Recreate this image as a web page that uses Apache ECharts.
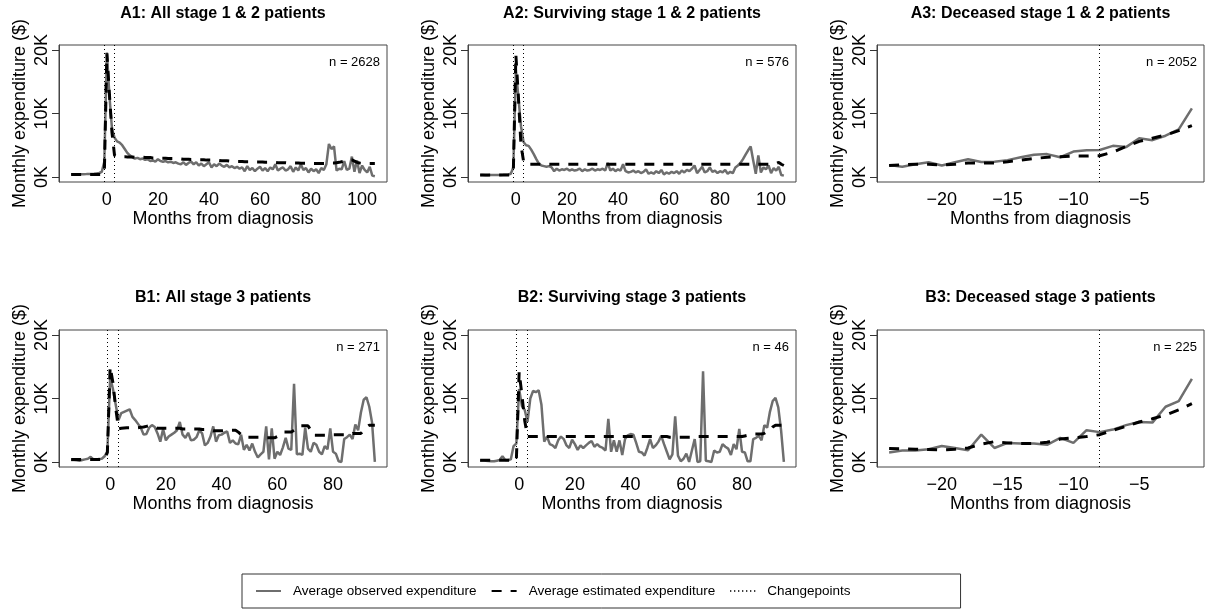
<!DOCTYPE html>
<html>
<head>
<meta charset="utf-8">
<title>Monthly expenditure</title>
<script src="https://cdn.jsdelivr.net/npm/echarts@6/dist/echarts.min.js"></script>
<style>
  html, body { margin: 0; padding: 0; background: #fff; }
  #chart { width: 1210px; height: 609px; }
</style>
</head>
<body>
<div id="chart"></div>
<script>
// panel texts
const panelTitles = [
  'A1: All stage 1 & 2 patients', 'A2: Surviving stage 1 & 2 patients', 'A3: Deceased stage 1 & 2 patients',
  'B1: All stage 3 patients', 'B2: Surviving stage 3 patients', 'B3: Deceased stage 3 patients'
]
const panelN = ['n = 2628', 'n = 576', 'n = 2052', 'n = 271', 'n = 46', 'n = 225']
// first month of each panel's series
const startMonths = [-14, -14, -24, -14, -14, -24]
const changepoints = [[-1, 3], [-1, 3], [-8], [-1, 3], [-1, 3], [-8]]
const xTickLabels = [
  [0, 20, 40, 60, 80, 100], [0, 20, 40, 60, 80, 100], [-20, -15, -10, -5],
  [0, 20, 40, 60, 80], [0, 20, 40, 60, 80], [-20, -15, -10, -5]
]
const yTickValues = [0, 10000, 20000]

// average observed expenditure, months -14..105
const observedA1 = [
  420, 430, 410, 420, 430, 440, 450, 470, 480, 500, 560, 620, 800, 2400,
  19600, 12800, 7600, 6200, 5600, 5400, 5000, 4400, 3800, 3400,
  3100, 2900, 3000, 2800, 2900, 2700, 2800, 2500, 2600, 2400,
  2800, 2500, 2400, 2500, 2300, 2400, 2200, 2300, 2100, 2000,
  2300, 1900, 2200, 2400, 2000, 2300, 1800, 2100, 1700, 2000,
  2300, 1500, 2000, 1700, 2100, 1800, 1600, 1900, 1500, 1700,
  1400, 1600, 1300, 1500, 900, 1700, 1100, 1400, 900, 1300,
  1600, 1000, 1400, 900, 1500, 1200, 2000, 1000, 1300, 1500,
  1000, 1200, 1700, 800, 1500, 1000, 2000, 1100, 1400, 700,
  1300, 900, 1200, 600, 1400, 1100, 2000, 5200, 4400, 4800,
  1000, 1300, 1200, 2500, 1100, 1300, 3200, 800, 2600, 600,
  1800, 1100, 700, 1600, 200, 100
]
// average estimated expenditure, months -14..105
const estimatedA1 = [
  400, 400, 400, 400, 400, 400, 400, 400, 400, 400, 400, 400, 400, 600,
  19500, 13000, 7000, 3400,
  3200, 3200, 3200, 3200, 3150, 3150, 3150, 3100, 3100, 3100,
  3100, 3050, 3050, 3050, 3000, 3000, 3000, 2950, 2950, 2950,
  2900, 2900, 2900, 2850, 2850, 2850, 2800, 2800, 2800, 2750,
  2750, 2750, 2700, 2700, 2700, 2650, 2650, 2650, 2600, 2600,
  2600, 2550, 2550, 2550, 2500, 2500, 2500, 2450, 2450, 2450,
  2400, 2400, 2400, 2400, 2350, 2350, 2350, 2350, 2300, 2300,
  2300, 2300, 2300, 2250, 2250, 2250, 2250, 2200, 2200, 2200,
  2200, 2200, 2150, 2150, 2150, 2150, 2100, 2100, 2100, 2100,
  2100, 2100, 2100, 2150, 2200, 2200, 2250, 2300, 2400, 2500,
  2700, 2750, 2700, 2500, 2300, 2200, 2150, 2100, 2100, 2100, 2100, 2100
]

const observedA2 = [
  300, 300, 280, 280, 290, 300, 300, 310, 320, 330, 350, 380, 500, 1500,
  16900, 12500, 8000, 5500, 5000, 4900, 4300, 3600, 2800, 2100,
  1800, 1700, 1600, 1700, 1500, 900, 1300, 1000, 1200, 1100,
  1300, 1000, 1200, 1000, 1100, 1300, 900, 1200, 1000, 1100,
  1300, 1000, 1200, 1100, 1300, 1000, 2200, 1000, 1300, 900,
  1200, 1000, 2000, 900, 700, 800, 1000, 700, 900, 600,
  800, 1200, 500, 700, 500, 900, 600, 1100, 400, 700,
  500, 800, 600, 900, 500, 1000, 700, 1100, 900, 1300,
  1800, 600, 1100, 1600, 700, 900, 1500, 800, 1000, 600,
  900, 700, 1100, 500, 800, 600, 1500, 1800, 2200, 2800,
  3500, 4200, 4800, 2600, 500, 3400, 700, 1500, 1200, 1800,
  600, 1400, 1000, 1600, 300, 200
]
const estimatedA2 = [
  300, 300, 300, 300, 300, 300, 300, 300, 300, 300, 300, 300, 300, 800,
  19200, 12500, 5000, 2500,
  2000, 2000, 2000, 2000, 2000, 2000, 2000, 2000, 2000, 2000, 2000, 2000,
  2000, 2000, 2000, 2000, 2000, 2000, 2000, 2000, 2000, 2000, 2000, 2000,
  2000, 2000, 2000, 2000, 2000, 2000, 2000, 2000, 2000, 2000, 2000, 2000,
  2000, 2000, 2000, 2000, 2000, 2000, 2000, 2000, 2000, 2000, 2000, 2000,
  2000, 2000, 2000, 2000, 2000, 2000, 2000, 2000, 2000, 2000, 2000, 2000,
  2000, 2000, 2000, 2000, 2000, 2000, 2000, 2000, 2000, 2000, 2000, 2000,
  2000, 2000, 2000, 2000, 2000, 2000, 2000, 2000, 2000, 2000, 2000, 2000,
  2000, 2000, 2000, 2000, 2000, 2000, 2000, 2000, 2000, 2000, 2000, 2000,
  2000, 2000, 2100, 2300, 2000, 1800
]

// months -24..-1
const observedA3 = [
  1860, 1600, 2000, 2300, 1800, 2300, 2800, 2350, 2400, 2650, 3100, 3500,
  3600, 3100, 4000, 4200, 4250, 4900, 4700, 6100, 5800, 6500, 7500, 10800
]
const estimatedA3 = [
  1800, 1900, 2000, 2000, 1900, 2000, 2200, 2200, 2200, 2400, 2650, 2900,
  3100, 3200, 3300, 3300, 3350, 3900, 4800, 5600, 6100, 6600, 7300, 8100
]

// months -14..95
const observedB1 = [
  300, 300, 250, 200, 300, 400, 500, 800, 400, 400, 450, 500, 900, 1600,
  13400, 11500, 9000, 6600, 7700, 7900, 8100, 8300, 7100, 6600,
  6000, 5400, 4300, 4400, 5400, 5800, 5500, 4500, 3200, 5200,
  3400, 4000, 4300, 4600, 5000, 6300, 4300, 3800, 4600, 3400,
  3500, 3900, 5000, 4500, 2600, 3000, 4000, 5600, 3200, 4200,
  4300, 4600, 4800, 3000, 3400, 2900, 2800, 4300, 1900, 2700,
  1800, 2900, 1600, 700, 1200, 1600, 5600, 400, 5300, 500,
  1600, 1100, 2300, 3800, 2100, 1900, 12300, 1200, 1300, 1100,
  5400, 2100, 1600, 3000, 2700, 1600, 1200, 2500, 2000, 5300,
  1600, 1300, 100, 0, 3600, 3900, 4300, 3600, 5900, 5000,
  7800, 9800, 10200, 8700, 6200, 0
]
const estimatedB1 = [
  400, 400, 400, 400, 400, 400, 400, 400, 400, 400, 400, 400, 400, 1500,
  15000, 12500, 8500, 5200,
  5300, 5350, 5400, 5400, 5400, 5400, 5400, 5450, 5500, 5600,
  5700, 5700, 5500, 5300, 5300, 5300, 5300, 5300, 5300, 5300,
  5300, 5300, 5200, 5200, 5200, 5200, 5200, 5200, 5200, 5100,
  5100, 5100, 5000, 4900, 4900, 4900, 4900, 5000, 5000, 5000,
  5000, 5000, 4700, 4300, 3900, 3900, 3900, 3900, 3900, 3900,
  3900, 3900, 3800, 3800, 3800, 3800, 4000, 4300, 4700, 4700,
  4700, 4700, 5000, 5300, 5700, 5700, 5700, 5700, 5000, 4200,
  4200, 4200, 4200, 4200, 4200, 4200, 4300, 4300, 4300, 4300,
  4300, 4300, 4300, 4500, 4500, 4500, 4500, 5000, 5500, 5800,
  5800, 5800
]

const observedB2 = [
  200, 250, 200, 150, 100, 100, 200, 300, 900, 300, 300, 400, 2500, 2900,
  11500, 8800, 8200, 6300, 10000, 11200, 11000, 11300, 9000, 3200,
  4000, 2800, 2600, 2200, 3400, 4000, 3600, 2600, 2200, 3500,
  2800, 1900, 2600, 2200, 2600, 3000, 3300, 2400, 2800, 2400,
  2200, 1800, 6800, 1600, 3400, 1600, 3400, 1100, 3600, 4200,
  4400, 4300, 3000, 1600, 1500, 1000, 2200, 3600, 2200, 2600,
  3200, 4100, 2800, 1600, 400, 1200, 7200, 1000, 100, 500,
  1300, 0, 1800, 3600, 0, 100, 14300, 200, 100, 0,
  1800, 1500, 1600, 2800, 2400, 2100, 1100, 2800, 2000, 5200,
  1600, 1500, 100, 100, 3600, 3800, 4100, 3400, 5800, 5400,
  7900, 9600, 10100, 8600, 5000, 0
]
const estimatedB2 = [
  250, 250, 250, 250, 250, 250, 250, 250, 250, 250, 250, 250, 250, 300,
  14200, 10500, 6500, 4000,
  4000, 4000, 4000, 4000, 4000, 4000, 4000, 4000, 4000, 4000,
  4000, 4000, 4000, 4000, 4000, 4000, 4000, 4000, 4000, 4000,
  4000, 4000, 4000, 4000, 4000, 4000, 4000, 4000, 4000, 4000,
  4000, 4000, 4000, 4000, 4000, 4000, 4000, 4000, 4000, 4000,
  4000, 4000, 4000, 4000, 4000, 4000, 4000, 4000, 4000, 4000,
  3900, 3900, 3900, 3900, 3900, 3900, 3900, 3900, 3900,
  4000, 4000, 4000, 4000, 4000, 4000, 4000, 4000, 4000,
  4000, 4000, 4000, 4000, 4000, 4000, 4000, 4000, 4000,
  4100, 4200, 4300, 4400, 4400, 4400, 4400, 4500, 4800, 5000,
  5500, 5800, 5800, 5800, 5800
]

const observedB3 = [
  1500, 1800, 1800, 2000, 2500, 2200, 1850, 4300, 2200, 3000, 2900, 2900,
  2700, 3800, 3000, 5000, 4700, 5100, 5800, 6300, 6200, 8700, 9600, 13100
]
const estimatedB3 = [
  2100, 2050, 2000, 1950, 1900, 2000, 2200, 2800, 3200, 3000, 2900, 2900,
  3100, 3600, 3800, 4000, 4300, 5000, 5600, 6300, 6800, 7400, 8200, 9200
]

const observedAll = [observedA1, observedA2, observedA3, observedB1, observedB2, observedB3]
const estimatedAll = [estimatedA1, estimatedA2, estimatedA3, estimatedB1, estimatedB2, estimatedB3]

const obsName = 'Average observed expenditure'
const estName = 'Average estimated expenditure'
const cpName = 'Changepoints'
const font = '"Liberation Sans", Arial, Helvetica, sans-serif'

// plot boxes
const boxLefts = [59, 468, 877]
const boxWidths = [328, 328, 327]
const boxTops = [45, 330]
const boxHeight = 137

const toPairs = (start, values) => values.map((v, i) => [start + i, v])

const myChart = echarts.init(document.getElementById('chart'))

const grids = [], xAxes = [], yAxes = [], series = [], graphics = []
for (let i = 0; i < 6; i++) {
  const col = i % 3, row = Math.floor(i / 3)
  const left = boxLefts[col], top = boxTops[row], width = boxWidths[col]
  grids.push({
    left: left, top: top, width: width, height: boxHeight,
    show: true, borderColor: '#444', borderWidth: 1, backgroundColor: 'transparent'
  })
  // R-style 4% padding around the data range
  const first = startMonths[i], last = startMonths[i] + observedAll[i].length - 1
  const pad = (last - first) * 0.04
  xAxes.push({
    type: 'value', gridIndex: i, min: first - pad, max: last + pad,
    axisLine: { show: false, onZero: false }, axisTick: { show: false }, splitLine: { show: false },
    axisLabel: {
      customValues: xTickLabels[i], margin: 9, fontSize: 18, color: '#000', fontFamily: font,
      formatter: v => String(v).replace('-', '\u2212')
    },
    name: 'Months from diagnosis', nameLocation: 'middle', nameGap: 23,
    nameTextStyle: { fontSize: 18, color: '#000', fontFamily: font }
  })
  yAxes.push({
    type: 'value', gridIndex: i, min: -800, max: 20800,
    axisLine: { show: true, onZero: false, lineStyle: { color: '#444', width: 1 } },
    splitLine: { show: false },
    axisTick: { show: true, length: 7, customValues: yTickValues, lineStyle: { color: '#333' } },
    axisLabel: {
      customValues: yTickValues, rotate: 90, margin: 8, fontSize: 18, color: '#000', fontFamily: font,
      formatter: v => (v / 1000) + 'K'
    },
    name: 'Monthly expenditure ($)', nameLocation: 'middle', nameGap: 30,
    nameTextStyle: { fontSize: 18, color: '#000', fontFamily: font }
  })
  series.push({
    type: 'line', name: obsName, xAxisIndex: i, yAxisIndex: i, symbol: 'none', silent: true,
    data: toPairs(startMonths[i], observedAll[i]),
    lineStyle: { color: '#6e6e6e', width: 2.5 }, itemStyle: { color: '#6e6e6e' }, z: 2
  })
  series.push({
    type: 'line', name: estName, xAxisIndex: i, yAxisIndex: i, symbol: 'none', silent: true,
    data: toPairs(startMonths[i], estimatedAll[i]),
    lineStyle: { color: '#000', width: 3, type: [10, 9] }, itemStyle: { color: '#000' }, z: 3
  })
  series.push({
    type: 'line', name: cpName, xAxisIndex: i, yAxisIndex: i, symbol: 'none', silent: true,
    data: [],
    lineStyle: { color: '#000', width: 1, type: [1, 3] }, itemStyle: { color: '#000' },
    markLine: {
      symbol: ['none', 'none'], silent: true, animation: false, label: { show: false },
      lineStyle: { color: '#000', width: 1, type: [1, 3] },
      data: changepoints[i].map(v => ({ xAxis: v }))
    }
  })
  graphics.push({
    type: 'text', x: left + width / 2, y: row === 0 ? 14 : 298,
    style: {
      text: panelTitles[i], fill: '#000', fontSize: 16, fontWeight: 'bold', fontFamily: font,
      textAlign: 'center', align: 'center', textVerticalAlign: 'middle', verticalAlign: 'middle'
    }
  })
  graphics.push({
    type: 'text', x: left + width - 7, y: top + 17,
    style: {
      text: panelN[i], fill: '#000', fontSize: 13, fontFamily: font,
      textAlign: 'right', align: 'right', textVerticalAlign: 'middle', verticalAlign: 'middle'
    }
  })
}

const option = {
  animation: false,
  backgroundColor: '#fff',
  grid: grids,
  xAxis: xAxes,
  yAxis: yAxes,
  series: series,
  graphic: graphics,
  legend: {
    data: [obsName, estName, cpName],
    left: 242, top: 574, orient: 'horizontal',
    padding: [10, 110, 10, 13],
    borderColor: '#333', borderWidth: 1,
    itemWidth: 25, itemHeight: 14, itemGap: 14,
    selectedMode: false,
    itemStyle: { opacity: 0, borderWidth: 0 },
    textStyle: { fontSize: 13.5, color: '#000', fontFamily: font, padding: [0, 0, 0, 7] }
  }
}
myChart.setOption(option)
</script>
</body>
</html>
